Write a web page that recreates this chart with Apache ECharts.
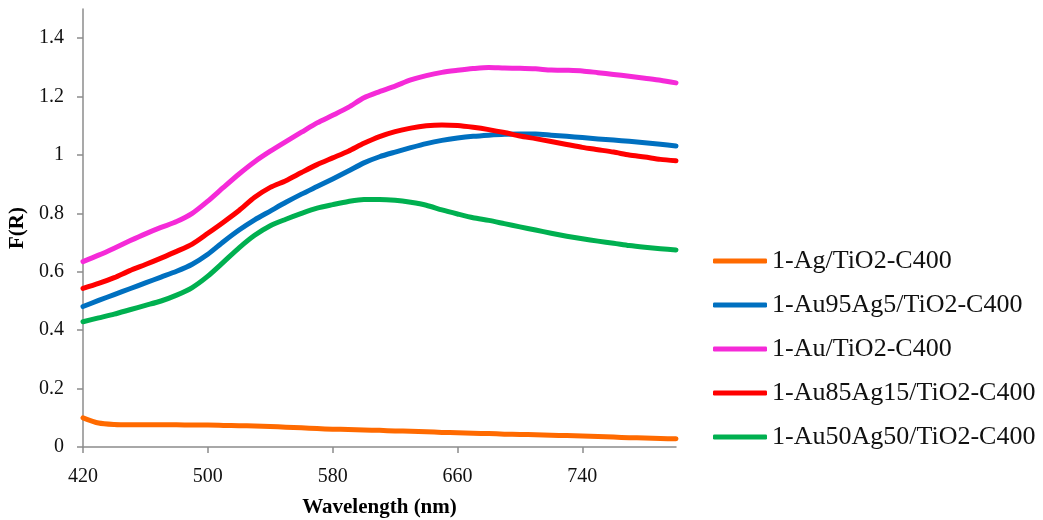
<!DOCTYPE html>
<html>
<head>
<meta charset="utf-8">
<title>F(R) vs Wavelength</title>
<script src="https://cdn.jsdelivr.net/npm/echarts@6/dist/echarts.min.js"></script>
<style>
  html, body { margin: 0; padding: 0; background: #ffffff; }
  #chart { width: 1043px; height: 520px; }
</style>
</head>
<body>
<div id="chart"></div>
<script>
// Wavelength grid (nm)
const wavelength = [420,430,440,450,460,470,480,490,500,510,520,530,540,550,560,570,580,590,600,610,
                    620,630,640,650,660,670,680,690,700,710,720,730,740,750,760,770,780,790,800];

// Kubelka-Munk F(R) for each sample
const ag = [0.100,0.082,0.077,0.076,0.076,0.076,0.076,0.075,0.075,0.074,0.073,0.072,0.070,0.068,0.066,0.063,0.061,0.060,0.058,0.057,
            0.055,0.054,0.052,0.050,0.049,0.047,0.046,0.044,0.043,0.042,0.040,0.039,0.038,0.036,0.034,0.032,0.031,0.029,0.028];
const au95ag5 = [0.481,0.502,0.522,0.542,0.562,0.582,0.602,0.626,0.660,0.703,0.743,0.778,0.808,0.838,0.866,0.892,0.918,0.945,0.973,0.994,
                 1.010,1.025,1.039,1.050,1.058,1.064,1.068,1.071,1.072,1.072,1.068,1.064,1.060,1.055,1.051,1.047,1.042,1.037,1.031];
const au = [0.635,0.657,0.681,0.706,0.730,0.752,0.772,0.800,0.842,0.889,0.935,0.977,1.013,1.046,1.078,1.110,1.136,1.163,1.196,1.217,
            1.236,1.257,1.272,1.283,1.290,1.296,1.300,1.298,1.297,1.295,1.291,1.290,1.288,1.282,1.276,1.270,1.263,1.256,1.247];
const au85ag15 = [0.543,0.560,0.580,0.604,0.625,0.647,0.670,0.695,0.732,0.770,0.810,0.855,0.889,0.912,0.940,0.967,0.990,1.013,1.040,1.063,
                  1.080,1.092,1.100,1.103,1.101,1.095,1.087,1.077,1.065,1.056,1.046,1.036,1.026,1.018,1.010,1.000,0.993,0.985,0.980];
const au50ag50 = [0.429,0.442,0.455,0.470,0.485,0.500,0.520,0.546,0.585,0.633,0.682,0.725,0.758,0.780,0.800,0.818,0.830,0.841,0.848,0.848,
                  0.845,0.838,0.828,0.812,0.798,0.785,0.776,0.765,0.754,0.743,0.732,0.722,0.713,0.705,0.698,0.690,0.684,0.679,0.675];

const seriesNames = ['1-Ag/TiO2-C400','1-Au95Ag5/TiO2-C400','1-Au/TiO2-C400','1-Au85Ag15/TiO2-C400','1-Au50Ag50/TiO2-C400'];
const seriesValues = [ag, au95ag5, au, au85ag15, au50ag50];
const seriesColors = ['#FF6A00','#0070C0','#F52AD8','#FF0000','#00B050'];

const xTicks = [420, 500, 580, 660, 740];
const yTicks = [0, 0.2, 0.4, 0.6, 0.8, 1.0, 1.2, 1.4];

const FONT = '"Liberation Serif", "Times New Roman", serif';
const AXIS_GRAY = '#8c8c8c';

const chart = echarts.init(document.getElementById('chart'), null, { renderer: 'canvas' });

const series = seriesNames.map((name, i) => ({
  name: name,
  type: 'line',
  data: wavelength.map((w, k) => [w, seriesValues[i][k]]),
  showSymbol: false,
  symbol: 'none',
  smooth: 0.25,
  lineStyle: { width: 5, color: seriesColors[i], cap: 'round', join: 'round' },
  itemStyle: { color: seriesColors[i] },
  emphasis: { disabled: true },
  animation: false
}));

chart.setOption({
  animation: false,
  backgroundColor: '#ffffff',
  grid: { left: 83, right: 367, top: 9, bottom: 73, containLabel: false, outerBoundsMode: 'none' },
  xAxis: {
    type: 'value',
    min: 420,
    max: 800,
    name: 'Wavelength (nm)',
    nameLocation: 'middle',
    nameGap: 50,
    nameTextStyle: { fontFamily: FONT, fontSize: 21, fontWeight: 'bold', color: '#000' },
    axisLine: { show: true, lineStyle: { color: AXIS_GRAY, width: 1.5 } },
    axisTick: { show: true, customValues: xTicks, length: 6, inside: false, lineStyle: { color: AXIS_GRAY, width: 1.5 } },
    axisLabel: { customValues: xTicks, margin: 20, fontFamily: FONT, fontSize: 20, color: '#111' },
    splitLine: { show: false }
  },
  yAxis: {
    type: 'value',
    min: 0,
    max: 1.5,
    name: 'F(R)',
    nameLocation: 'middle',
    nameGap: 50,
    nameRotate: 90,
    nameTextStyle: { fontFamily: FONT, fontSize: 21, fontWeight: 'bold', color: '#000' },
    axisLine: { show: true, lineStyle: { color: AXIS_GRAY, width: 1.5 } },
    axisTick: { show: true, customValues: yTicks, length: 6, inside: false, lineStyle: { color: AXIS_GRAY, width: 1.5 } },
    axisLabel: {
      customValues: yTicks,
      margin: 19,
      fontFamily: FONT,
      fontSize: 20,
      color: '#111',
      formatter: v => String(+Number(v).toFixed(1))
    },
    splitLine: { show: false }
  },
  legend: {
    orient: 'vertical',
    left: 708,
    top: 243,
    icon: 'roundRect',
    itemWidth: 54,
    itemHeight: 5,
    itemGap: 18,
    data: seriesNames,
    selectedMode: false,
    textStyle: { fontFamily: FONT, fontSize: 26, color: '#111', lineHeight: 26, padding: [0, 0, 0, 0] }
  },
  series: series
});
</script>
</body>
</html>
